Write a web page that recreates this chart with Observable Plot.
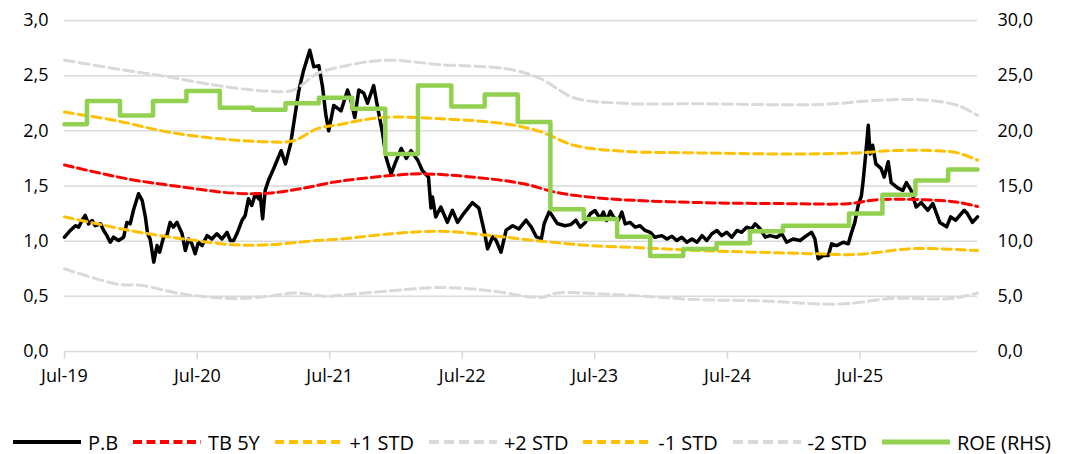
<!DOCTYPE html>
<html>
<head>
<meta charset="utf-8">
<script src="https://cdn.jsdelivr.net/npm/d3@7"></script>
<script src="https://cdn.jsdelivr.net/npm/@observablehq/plot@0.6"></script>
<style>
  html, body { margin: 0; padding: 0; background: #fff; }
  body { width: 1065px; height: 454px; overflow: hidden; font-family: "Open Sans", sans-serif; }
  #legend { display: flex; align-items: center; justify-content: space-between; padding: 0 14px 0 12px; height: 30px; margin-top: 17px; font-size: 20px; color: #000; }
  .item { display: flex; align-items: center; gap: 6px; }
  .item svg { display: block; }
</style>
</head>
<body>
<div id="chart"></div>
<div id="legend"></div>
<script>
// ---- Data ----
// P/B ratio (left axis): [date, value]
const pbSeries = [
["2019-07-01",1.036],["2019-07-17",1.097],["2019-07-31",1.14],["2019-08-09",1.127],["2019-08-18",1.187],["2019-08-27",1.233],
["2019-09-05",1.157],["2019-09-15",1.187],["2019-09-24",1.14],["2019-10-08",1.157],["2019-10-17",1.097],["2019-10-26",1.05],
["2019-11-04",0.99],["2019-11-13",1.036],["2019-11-27",1.006],["2019-12-11",1.036],["2019-12-20",1.17],["2019-12-29",1.157],
["2020-01-07",1.28],["2020-01-21",1.43],["2020-01-31",1.37],["2020-02-09",1.217],["2020-02-15",1.067],["2020-02-22",1.02],
["2020-03-03",0.81],["2020-03-12",0.96],["2020-03-19",0.90],["2020-03-30",1.036],["2020-04-08",1.05],["2020-04-17",1.17],
["2020-04-26",1.127],["2020-05-06",1.17],["2020-05-20",1.067],["2020-05-29",0.915],["2020-06-07",1.02],["2020-06-16",0.976],
["2020-06-25",0.886],["2020-07-04",0.99],["2020-07-14",0.96],["2020-07-28",1.05],["2020-08-10",1.02],["2020-08-24",1.067],
["2020-09-07",1.02],["2020-09-21",1.08],["2020-09-30",1.006],["2020-10-09",1.006],["2020-10-18",1.067],["2020-11-01",1.187],
["2020-11-10",1.233],["2020-11-19",1.384],["2020-11-28",1.323],["2020-12-08",1.43],["2020-12-17",1.384],["2020-12-21",1.43],
["2020-12-28",1.203],["2021-01-04",1.46],["2021-01-13",1.55],["2021-01-29",1.67],["2021-02-17",1.82],["2021-03-01",1.70],
["2021-03-15",1.88],["2021-03-29",2.18],["2021-04-07",2.37],["2021-04-20",2.55],["2021-05-07",2.73],["2021-05-18",2.58],
["2021-06-01",2.59],["2021-06-11",2.40],["2021-06-20",2.15],["2021-06-28",2.00],["2021-07-12",2.23],["2021-08-01",2.18],
["2021-08-19",2.37],["2021-08-28",2.28],["2021-09-08",2.12],["2021-09-19",2.37],["2021-10-03",2.34],["2021-10-13",2.25],
["2021-10-30",2.41],["2021-11-10",2.21],["2021-11-24",1.97],["2021-12-03",1.76],["2021-12-17",1.61],["2021-12-31",1.73],
["2022-01-14",1.84],["2022-01-28",1.75],["2022-02-10",1.82],["2022-03-01",1.73],["2022-03-13",1.64],["2022-03-30",1.58],
["2022-04-06",1.30],["2022-04-10",1.40],["2022-04-19",1.22],["2022-05-03",1.31],["2022-05-21",1.17],["2022-06-04",1.28],
["2022-06-18",1.17],["2022-07-05",1.25],["2022-07-29",1.35],["2022-08-16",1.30],["2022-08-30",1.10],["2022-09-09",0.93],
["2022-09-23",1.04],["2022-10-02",1.01],["2022-10-16",0.90],["2022-10-30",1.10],["2022-11-17",1.14],["2022-12-04",1.11],
["2022-12-24",1.19],["2023-01-07",1.13],["2023-01-21",1.04],["2023-02-04",1.02],["2023-02-12",1.16],["2023-02-26",1.27],
["2023-03-20",1.16],["2023-04-10",1.14],["2023-04-26",1.15],["2023-05-10",1.19],
["2023-05-22",1.127],["2023-06-05",1.17],["2023-06-19",1.248],["2023-07-02",1.278],["2023-07-16",1.203],["2023-07-25",1.263],
["2023-08-03",1.187],["2023-08-13",1.27],["2023-08-22",1.217],["2023-09-04",1.187],["2023-09-14",1.263],["2023-09-23",1.157],
["2023-10-07",1.17],["2023-10-21",1.127],["2023-11-03",1.14],["2023-11-17",1.097],["2023-12-01",1.08],["2023-12-14",1.036],
["2024-01-02",1.05],["2024-01-16",1.02],["2024-01-30",1.045],["2024-02-12",1.006],["2024-02-26",1.036],["2024-03-11",0.99],
["2024-03-25",1.02],["2024-04-08",0.99],["2024-04-22",1.05],["2024-05-05",1.006],["2024-05-19",1.067],["2024-06-02",1.097],
["2024-06-15",1.05],["2024-06-29",1.08],["2024-07-13",1.036],["2024-07-27",1.097],["2024-08-09",1.08],["2024-08-23",1.127],
["2024-09-06",1.112],["2024-09-15",1.157],["2024-09-29",1.112],["2024-10-13",1.036],["2024-10-26",1.05],["2024-11-14",1.036],
["2024-11-28",1.067],["2024-12-11",0.99],["2024-12-29",1.02],["2025-01-17",1.006],["2025-02-04",1.05],["2025-02-18",1.08],
["2025-02-27",1.02],["2025-03-04",0.915],["2025-03-08",0.84],["2025-03-22",0.87],["2025-04-05",0.87],["2025-04-14",0.976],
["2025-04-28",0.96],["2025-05-16",0.99],["2025-05-30",0.976],["2025-06-08",1.08],["2025-06-17",1.17],["2025-06-26",1.323],
["2025-07-05",1.41],["2025-07-10",1.55],["2025-07-17",1.79],["2025-07-24",2.05],["2025-07-29",1.79],["2025-08-05",1.87],
["2025-08-14",1.70],["2025-08-28",1.66],["2025-09-06",1.58],["2025-09-17",1.72],["2025-09-25",1.53],["2025-10-14",1.48],
["2025-10-27",1.46],["2025-11-06",1.53],["2025-11-19",1.46],["2025-12-03",1.31],["2025-12-17",1.35],["2026-01-04",1.28],
["2026-01-18",1.34],["2026-02-06",1.17],["2026-02-25",1.13],["2026-03-08",1.22],["2026-03-22",1.19],["2026-04-14",1.28],
["2026-04-23",1.25],["2026-05-07",1.17],["2026-05-21",1.22]
];

// TB 5Y (mean) and +/- 1, 2 standard deviation bands
const tbSeries = [["2019-07-01",1.69],["2019-12-21",1.565],["2020-05-24",1.49],["2020-10-10",1.435],["2021-01-12",1.435],["2021-04-12",1.475],["2021-07-12",1.535],["2021-09-19",1.565],["2021-12-17",1.595],["2022-03-16",1.61],["2022-08-02",1.58],["2022-12-18",1.52],["2023-03-20",1.44],["2023-08-05",1.385],["2024-04-14",1.35],["2024-12-24",1.34],["2025-05-28",1.34],["2025-08-19",1.375],["2025-12-25",1.375],["2026-03-27",1.353],["2026-05-21",1.314]];
const plus1Series = [["2019-07-01",2.17],["2019-11-24",2.09],["2020-04-10",1.99],["2020-08-26",1.93],["2021-01-12",1.90],["2021-03-23",1.91],["2021-05-28",2.02],["2021-08-01",2.06],["2021-11-19",2.12],["2022-05-03",2.11],["2022-11-04",2.06],["2023-02-04",1.99],["2023-05-04",1.87],["2023-09-19",1.815],["2024-04-14",1.80],["2024-12-24",1.79],["2025-06-25",1.80],["2025-09-25",1.82],["2026-01-22",1.82],["2026-03-27",1.80],["2026-05-21",1.735]];
const minus1Series = [["2019-07-01",1.22],["2020-01-08",1.09],["2020-05-24",1.02],["2020-10-10",0.967],["2021-01-12",0.967],["2021-05-28",1.006],["2021-08-01",1.02],["2021-12-17",1.067],["2022-05-03",1.09],["2022-09-18",1.05],["2023-02-04",1.00],["2023-06-20",0.96],["2023-11-05",0.94],["2024-04-14",0.915],["2024-09-23",0.90],["2025-03-06",0.885],["2025-06-25",0.88],["2025-11-10",0.93],["2026-02-11",0.93],["2026-05-21",0.915]];
const plus2Series = [["2019-07-01",2.64],["2019-11-24",2.56],["2020-04-10",2.49],["2020-08-26",2.41],["2021-01-12",2.36],["2021-03-23",2.37],["2021-05-28",2.52],["2021-08-01",2.58],["2021-11-27",2.64],["2022-05-03",2.60],["2022-11-04",2.56],["2023-02-04",2.47],["2023-05-04",2.30],["2023-09-19",2.25],["2024-04-14",2.245],["2025-03-24",2.24],["2025-08-09",2.275],["2025-12-25",2.28],["2026-03-27",2.23],["2026-05-21",2.14]];
const minus2Series = [["2019-07-01",0.75],["2019-11-24",0.61],["2020-01-27",0.60],["2020-05-24",0.52],["2020-10-10",0.48],["2021-01-12",0.50],["2021-03-23",0.53],["2021-06-24",0.50],["2021-08-01",0.51],["2021-12-17",0.55],["2022-05-03",0.58],["2022-09-18",0.55],["2023-02-04",0.49],["2023-03-20",0.53],["2023-08-05",0.52],["2024-04-14",0.47],["2024-09-23",0.46],["2025-05-10",0.43],["2025-09-25",0.48],["2026-03-08",0.48],["2026-05-21",0.53]];

// ROE, % (right axis), quarterly steps
const roeSeries = [["2019-07-01",20.6],["2019-09-01",22.7],["2019-12-01",21.4],["2020-03-01",22.7],["2020-06-01",23.6],["2020-09-01",22.1],["2020-12-01",21.9],["2021-03-01",22.5],["2021-06-01",23.0],["2021-09-01",22.0],["2021-12-01",17.9],["2022-03-01",24.1],["2022-06-01",22.2],["2022-09-01",23.3],["2022-12-01",20.8],["2023-03-01",12.9],["2023-06-01",12.0],["2023-09-01",10.4],["2023-12-01",8.65],["2024-03-01",9.3],["2024-06-01",9.8],["2024-09-01",10.9],["2024-12-01",11.4],["2025-03-01",11.4],["2025-06-01",12.5],["2025-09-01",14.2],["2025-12-01",15.5],["2026-03-01",16.5],["2026-05-21",16.5]];

const xTickDates = ["2019-07-01","2020-07-01","2021-07-01","2022-07-01","2023-07-01","2024-07-01","2025-07-01"];
const yTicks = [0, 0.5, 1, 1.5, 2, 2.5, 3];

// ---- Build tables ----
const toRows = s => s.map(([d, v]) => ({date: new Date(d), value: v}));
const pb = toRows(pbSeries);
const tb = toRows(tbSeries);
const p1 = toRows(plus1Series);
const m1 = toRows(minus1Series);
const p2 = toRows(plus2Series);
const m2 = toRows(minus2Series);
const roe = toRows(roeSeries);

const RIGHT_FACTOR = 10; // RHS 30,0 aligns with LHS 3,0
const fmt = v => v.toFixed(1).replace(".", ",");
const monthFmt = d3.utcFormat("%b-%y");

const RED = "#FF0000", ORANGE = "#FFC000", GREY = "#D9D9D9", GREEN = "#92D050";
const dashRed = "9,4.5", dashOrange = "9,5", dashGrey = "10,5";

const chart = Plot.plot({
  width: 1065,
  height: 410,
  marginLeft: 64,
  marginRight: 88,
  marginTop: 20,
  marginBottom: 59,
  x: {type: "utc", domain: [new Date("2019-07-01"), new Date("2026-05-21")]},
  y: {domain: [0, 3]},
  style: {fontFamily: "'Open Sans', sans-serif", fontSize: "18px", color: "#000", background: "#fff"},
  marks: [
    Plot.gridY(yTicks.slice(1), {stroke: "#D9D9D9", strokeOpacity: 1, strokeWidth: 1.5}),
    Plot.ruleY([0], {stroke: "#D9D9D9", strokeWidth: 1.5}),
    Plot.axisX(xTickDates.map(d => new Date(d)), {tickFormat: monthFmt, tickSize: 8, tickPadding: 10, stroke: "#D9D9D9", strokeWidth: 1.5, fill: "#000", label: null}),
    Plot.axisY(yTicks, {anchor: "left", tickFormat: fmt, tickSize: 0, tickPadding: 16, fill: "#000", label: null}),
    Plot.axisY(yTicks, {anchor: "right", tickFormat: d => fmt(d * RIGHT_FACTOR), tickSize: 0, tickPadding: 20, fill: "#000", label: null}),
    Plot.line(pb, {x: "date", y: "value", stroke: "#000", strokeWidth: 3.5, strokeLinejoin: "round"}),
    Plot.line(tb, {x: "date", y: "value", stroke: RED, strokeWidth: 3, strokeDasharray: dashRed, curve: "catmull-rom"}),
    Plot.line(p1, {x: "date", y: "value", stroke: ORANGE, strokeWidth: 3, strokeDasharray: dashOrange, curve: "catmull-rom"}),
    Plot.line(p2, {x: "date", y: "value", stroke: GREY, strokeWidth: 3, strokeDasharray: dashGrey, curve: "catmull-rom"}),
    Plot.line(m1, {x: "date", y: "value", stroke: ORANGE, strokeWidth: 3, strokeDasharray: dashOrange, curve: "catmull-rom"}),
    Plot.line(m2, {x: "date", y: "value", stroke: GREY, strokeWidth: 3, strokeDasharray: dashGrey, curve: "catmull-rom"}),
    Plot.line(roe, {x: "date", y: d => d.value / RIGHT_FACTOR, stroke: GREEN, strokeWidth: 4.5, curve: "step-after"})
  ]
});
document.getElementById("chart").appendChild(chart);

// ---- Legend ----
const legendItems = [
  {label: "P.B", color: "#000", dash: null, w: 4},
  {label: "TB 5Y", color: RED, dash: dashRed, w: 4},
  {label: "+1 STD", color: ORANGE, dash: dashOrange, w: 4},
  {label: "+2 STD", color: GREY, dash: dashGrey, w: 4},
  {label: "-1 STD", color: ORANGE, dash: dashOrange, w: 4},
  {label: "-2 STD", color: GREY, dash: dashGrey, w: 4},
  {label: "ROE (RHS)", color: GREEN, dash: null, w: 5}
];
const legend = d3.select("#legend");
legendItems.forEach(it => {
  const item = legend.append("div").attr("class", "item");
  const svg = item.append("svg").attr("width", 70).attr("height", 12);
  svg.append("line").attr("x1", 1).attr("x2", 69).attr("y1", 6).attr("y2", 6)
    .attr("stroke", it.color).attr("stroke-width", it.w)
    .attr("stroke-dasharray", it.dash);
  item.append("span").text(it.label);
});
</script>
</body>
</html>
